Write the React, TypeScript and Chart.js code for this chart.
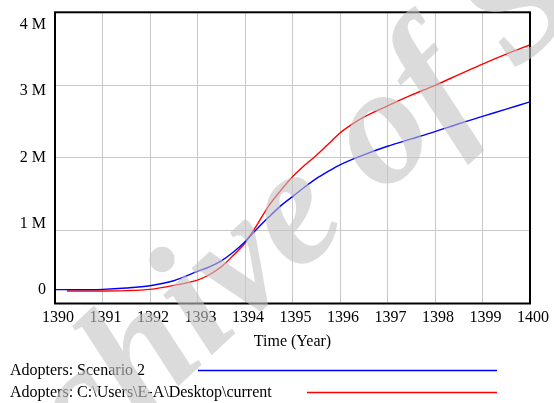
import React, { useEffect, useRef } from "react";
import { Chart, registerables } from "chart.js";

Chart.register(...registerables);

const years = [1390, 1391, 1392, 1393, 1394, 1395, 1396, 1397, 1398, 1399, 1400];
const yTicks = [0, 1e6, 2e6, 3e6, 4e6];

const blueX = [1390, 1390.5, 1391, 1391.5, 1392, 1392.5, 1393, 1393.25, 1393.5, 1393.75, 1394, 1394.25, 1394.5, 1394.75, 1395, 1395.25, 1395.5, 1395.75, 1396, 1396.5, 1397, 1397.5, 1398, 1398.5, 1399, 1399.5, 1400];
const blueY = [0.005, 0.005, 0.01, 0.03, 0.065, 0.14, 0.28, 0.35, 0.44, 0.57, 0.73, 0.92, 1.1, 1.27, 1.41, 1.55, 1.68, 1.79, 1.89, 2.04, 2.17, 2.28, 2.39, 2.51, 2.62, 2.73, 2.84];

const redX = [1390.25, 1391, 1391.5, 1392, 1392.5, 1393, 1393.25, 1393.5, 1393.75, 1394, 1394.25, 1394.5, 1394.75, 1395, 1395.25, 1395.5, 1395.75, 1396, 1396.25, 1396.5, 1397, 1397.5, 1398, 1398.5, 1399, 1399.5, 1400];
const redY = [-0.015, -0.015, -0.01, 0.01, 0.07, 0.15, 0.23, 0.35, 0.52, 0.71, 0.98, 1.27, 1.5, 1.71, 1.88, 2.03, 2.2, 2.37, 2.5, 2.61, 2.78, 2.94, 3.09, 3.25, 3.41, 3.56, 3.7];

const legendLabels = ["Adopters: Scenario 2", "Adopters: C:\\Users\\E-A\\Desktop\\current"];
const seriesColors = ["#0000ff", "#ff0000"];
const watermark = "Archive of SID";

const FONT = "'Liberation Serif', 'Times New Roman', serif";

export default function App() {
  const ref = useRef<HTMLCanvasElement | null>(null);

  useEffect(() => {
    if (!ref.current) return;
    const toPts = (xs: number[], ys: number[]) => xs.map((x, i) => ({ x, y: ys[i] * 1e6 }));

    const boxPlugin = {
      id: "boxAndLegend",
      afterDatasetsDraw(chart: any) {
        const { ctx, chartArea } = chart;
        ctx.save();
        ctx.strokeStyle = "#000";
        ctx.lineWidth = 2;
        ctx.strokeRect(chartArea.left, chartArea.top, chartArea.right - chartArea.left, chartArea.bottom - chartArea.top);
        // legend
        ctx.font = "16px " + FONT;
        ctx.textBaseline = "middle";
        ctx.textAlign = "left";
        const rows = [370.5, 392.5];
        const starts = [198, 307];
        legendLabels.forEach((t, i) => {
          ctx.fillStyle = "#000";
          ctx.fillText(t, 10, rows[i]);
          ctx.strokeStyle = seriesColors[i];
          ctx.lineWidth = 1.5;
          ctx.beginPath();
          ctx.moveTo(starts[i], rows[i]);
          ctx.lineTo(497, rows[i]);
          ctx.stroke();
        });
        // watermark
        const fs = 168;
        ctx.font = "italic bold " + fs + "px " + FONT;
        ctx.fillStyle = "rgba(195,195,195,0.6)";
        ctx.textBaseline = "alphabetic";
        const pre = ctx.measureText("Archiv").width;
        const ew = ctx.measureText("e").width;
        const th = (-43 * Math.PI) / 180;
        const lx = ew / 2;
        const ly = -0.23 * fs;
        const cx = 298, cy = 222;
        const tx = cx - (lx * Math.cos(th) - ly * Math.sin(th));
        const ty = cy - (lx * Math.sin(th) + ly * Math.cos(th));
        ctx.translate(tx, ty);
        ctx.rotate(th);
        ctx.fillText(watermark, -pre, 0);
        ctx.restore();
      },
    };

    const chart = new Chart(ref.current, {
      type: "line",
      data: {
        datasets: [
          {
            label: legendLabels[0],
            data: toPts(blueX, blueY),
            borderColor: seriesColors[0],
            borderWidth: 1.4,
            pointRadius: 0,
            cubicInterpolationMode: "monotone",
            yAxisID: "y",
          },
          {
            label: legendLabels[1],
            data: toPts(redX, redY),
            borderColor: seriesColors[1],
            borderWidth: 1.4,
            pointRadius: 0,
            cubicInterpolationMode: "monotone",
            yAxisID: "y",
          },
        ],
      },
      options: {
        animation: false,
        responsive: false,
        layout: { autoPadding: false, padding: { top: 12.3, bottom: 51.7, left: 0, right: 0 } },
        plugins: { legend: { display: false }, tooltip: { enabled: false } },
        scales: {
          x: {
            type: "linear",
            min: years[0],
            max: years[years.length - 1],
            afterBuildTicks: (s: any) => {
              s.ticks = years.map((v) => ({ value: v }));
            },
            ticks: {
              callback: (v: any) => String(v),
              color: "#000",
              font: { family: FONT, size: 16 },
              padding: 5,
              labelOffset: 3,
              maxRotation: 0,
              autoSkip: false,
            },
            grid: { color: "#c8c8c8", drawTicks: false, lineWidth: 1 },
            border: { display: false },
            title: {
              display: true,
              text: "Time (Year)",
              color: "#000",
              font: { family: FONT, size: 16 },
              padding: 0,
            },
            afterFit: (s: any) => {
              s.height = 47.8;
              s.paddingLeft = 0;
              s.paddingRight = 0;
            },
          },
          y: {
            position: "left",
            min: -0.2038e6,
            max: 4.1917e6,
            afterBuildTicks: (s: any) => {
              s.ticks = yTicks.map((v) => ({ value: v }));
            },
            ticks: {
              callback: (v: any) => (v === 0 ? "0" : v / 1e6 + " M"),
              color: "#000",
              font: { family: FONT, size: 16 },
              padding: 9,
            },
            grid: { display: false, drawTicks: false },
            border: { display: false },
            afterFit: (s: any) => {
              s.width = 55;
              s.paddingTop = 0;
              s.paddingBottom = 0;
            },
          },
          yg: {
            position: "right",
            min: 0,
            max: 4,
            display: true,
            afterBuildTicks: (s: any) => {
              s.ticks = [0, 1, 2, 3, 4].map((v) => ({ value: v }));
            },
            ticks: { display: false },
            grid: { color: "#c8c8c8", drawTicks: false, lineWidth: 1 },
            border: { display: false },
            afterFit: (s: any) => {
              s.width = 24;
              s.paddingTop = 0;
              s.paddingBottom = 0;
            },
          },
        },
      },
      plugins: [boxPlugin],
    });
    return () => chart.destroy();
  }, []);

  return (
    <div style={{ position: "fixed", left: 0, top: 0, width: 554, height: 403, background: "#fff" }}>
      <canvas ref={ref} width={554} height={403} style={{ display: "block" }} />
    </div>
  );
}
